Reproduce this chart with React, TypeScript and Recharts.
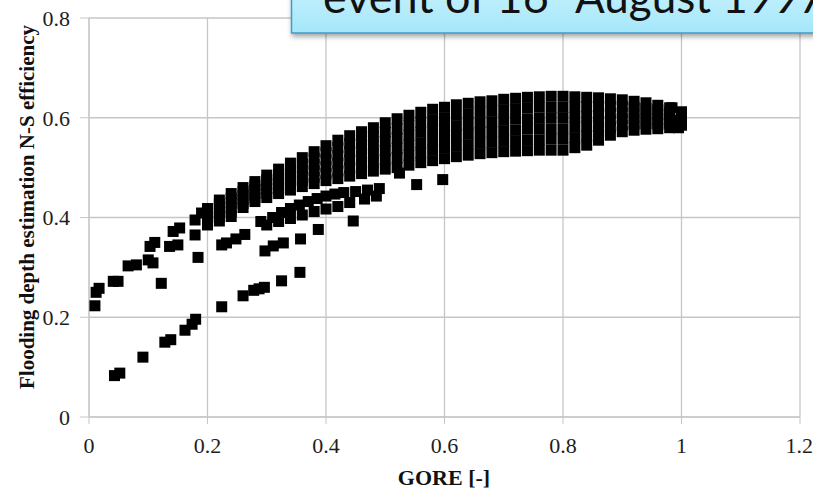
import { CartesianGrid, Label, Scatter, ScatterChart, XAxis, YAxis } from "recharts";

const xTicks = [0, 0.2, 0.4, 0.6, 0.8, 1, 1.2];
const yTicks = [0, 0.2, 0.4, 0.6, 0.8];

// GORE positions shared by every row of the dense band
const bandGore = [
  0.2, 0.22, 0.24, 0.26, 0.28, 0.3, 0.32, 0.34, 0.36, 0.38, 0.4, 0.42, 0.44, 0.46, 0.48, 0.5, 0.52, 0.54, 0.56, 0.58,
  0.6, 0.62, 0.64, 0.66, 0.68, 0.7, 0.72, 0.74, 0.76, 0.78, 0.8, 0.82, 0.84, 0.86, 0.88, 0.9, 0.92, 0.94, 0.96, 0.98, 1.0,
];

// N-S efficiency, top of the band down to its lower edge
const bandTop = [
  0.418, 0.435, 0.448, 0.46, 0.472, 0.485, 0.497, 0.509, 0.52, 0.532, 0.544, 0.555, 0.564, 0.572, 0.58, 0.59, 0.598, 0.605, 0.611, 0.617,
  0.621, 0.626, 0.629, 0.632, 0.634, 0.637, 0.639, 0.641, 0.642, 0.643, 0.643, 0.642, 0.641, 0.64, 0.638, 0.636, 0.633, 0.63, 0.625, 0.62, 0.612,
];
const bandRow2 = [
  0.411, 0.427, 0.439, 0.452, 0.464, 0.476, 0.487, 0.498, 0.508, 0.519, 0.53, 0.54, 0.548, 0.555, 0.563, 0.571, 0.578, 0.585, 0.591, 0.596,
  0.6, 0.605, 0.608, 0.611, 0.613, 0.616, 0.618, 0.62, 0.621, 0.621, 0.621, 0.622, 0.622, 0.623, 0.623, 0.623, 0.621, 0.619, 0.616, 0.612, 0.607,
];
const bandRow3 = [
  0.405, 0.418, 0.43, 0.444, 0.456, 0.467, 0.477, 0.487, 0.497, 0.506, 0.516, 0.524, 0.532, 0.538, 0.545, 0.553, 0.559, 0.565, 0.571, 0.576,
  0.58, 0.584, 0.587, 0.59, 0.592, 0.595, 0.597, 0.598, 0.599, 0.6, 0.6, 0.601, 0.603, 0.606, 0.609, 0.61, 0.61, 0.609, 0.606, 0.604, 0.601,
];
const bandRow4 = [
  0.398, 0.41, 0.42, 0.436, 0.448, 0.458, 0.468, 0.477, 0.485, 0.494, 0.502, 0.509, 0.515, 0.522, 0.528, 0.534, 0.539, 0.545, 0.55, 0.555,
  0.559, 0.564, 0.567, 0.57, 0.572, 0.574, 0.575, 0.577, 0.578, 0.578, 0.578, 0.581, 0.583, 0.589, 0.594, 0.598, 0.598, 0.598, 0.597, 0.596, 0.596,
];
const bandRow5 = [
  0.392, 0.401, 0.411, 0.428, 0.44, 0.449, 0.458, 0.466, 0.474, 0.481, 0.488, 0.493, 0.499, 0.505, 0.51, 0.516, 0.52, 0.525, 0.53, 0.535,
  0.539, 0.543, 0.546, 0.549, 0.551, 0.553, 0.554, 0.555, 0.556, 0.557, 0.557, 0.56, 0.564, 0.572, 0.58, 0.585, 0.587, 0.588, 0.587, 0.588, 0.59,
];
const bandBottom = [
  0.385, 0.393, 0.402, 0.42, 0.432, 0.44, 0.448, 0.455, 0.462, 0.468, 0.474, 0.478, 0.483, 0.488, 0.493, 0.497, 0.5, 0.505, 0.51, 0.514,
  0.518, 0.522, 0.525, 0.528, 0.53, 0.532, 0.533, 0.534, 0.535, 0.535, 0.535, 0.54, 0.545, 0.555, 0.565, 0.572, 0.575, 0.577, 0.578, 0.58, 0.585,
];

// scattered runs outside the band, as [GORE, N-S efficiency]
const lowGoreRun = [
  [0.01, 0.223], [0.012, 0.25], [0.017, 0.258], [0.041, 0.272], [0.049, 0.272], [0.066, 0.303], [0.08, 0.305],
  [0.1, 0.315], [0.108, 0.309], [0.103, 0.342], [0.111, 0.35], [0.122, 0.268], [0.136, 0.342], [0.15, 0.345],
  [0.142, 0.372], [0.153, 0.379], [0.179, 0.365], [0.179, 0.395], [0.184, 0.32], [0.19, 0.409],
];
const upperBranch = [
  [0.29, 0.392], [0.31, 0.4], [0.325, 0.41], [0.34, 0.418], [0.355, 0.425], [0.37, 0.432], [0.385, 0.438],
  [0.4, 0.443], [0.415, 0.447], [0.43, 0.45], [0.45, 0.452], [0.47, 0.455], [0.49, 0.458],
  [0.3, 0.385], [0.32, 0.392], [0.34, 0.398], [0.36, 0.405], [0.38, 0.412], [0.4, 0.417], [0.42, 0.422],
  [0.44, 0.43], [0.465, 0.437], [0.485, 0.443],
];
const middleBranch = [
  [0.224, 0.345], [0.232, 0.349], [0.248, 0.357], [0.263, 0.366], [0.297, 0.333], [0.311, 0.343],
  [0.328, 0.349], [0.357, 0.357], [0.387, 0.376], [0.446, 0.393],
];
const lowerBranch = [
  [0.224, 0.221], [0.26, 0.243], [0.278, 0.254], [0.287, 0.257], [0.296, 0.26], [0.325, 0.273], [0.356, 0.29],
];
const lowestBranch = [
  [0.043, 0.083], [0.052, 0.088], [0.091, 0.12], [0.128, 0.15], [0.138, 0.155], [0.162, 0.174], [0.174, 0.186], [0.18, 0.196],
];
const belowBand = [
  [0.524, 0.489], [0.553, 0.466], [0.597, 0.476], [0.984, 0.62], [0.998, 0.595], [0.995, 0.58],
];

const bandRows = [bandTop, bandRow2, bandRow3, bandRow4, bandRow5, bandBottom];
const runs = [lowGoreRun, upperBranch, middleBranch, lowerBranch, lowestBranch, belowBand];

const series = [
  ...bandRows.map((row) => bandGore.map((x, i) => ({ x, y: row[i] }))),
  ...runs.map((run) => run.map(([x, y]) => ({ x, y }))),
];

const serif = "'Liberation Serif', 'Times New Roman', serif";
const gridColor = "#c6c6c6";
const tickStyle = { fontFamily: serif, fontSize: 22, fill: "#1e1e1e" };

const SquareMark = (props: any) => (
  <rect x={props.cx - 5.5} y={props.cy - 5.5} width={11} height={11} fill="#000" />
);

export default function App() {
  return (
    <div style={{ position: "absolute", left: 0, top: 0, width: 813, height: 491, background: "#fff" }}>
      <ScatterChart width={813} height={491} margin={{ top: 18, right: 13, bottom: 34, left: 29 }}>
        <CartesianGrid stroke={gridColor} strokeWidth={1.3} />
        <XAxis
          type="number"
          dataKey="x"
          domain={[0, 1.2]}
          ticks={xTicks}
          height={40}
          stroke={gridColor}
          tickSize={7}
          tickMargin={13}
          tick={tickStyle}
        >
          <Label
            content={() => (
              <text x={444} y={485} textAnchor="middle" fontFamily={serif} fontSize={22} fontWeight="bold" fill="#111">
                GORE [-]
              </text>
            )}
          />
        </XAxis>
        <YAxis
          type="number"
          dataKey="y"
          domain={[0, 0.8]}
          ticks={yTicks}
          width={60}
          stroke={gridColor}
          tickSize={9}
          tickMargin={10}
          tick={tickStyle}
        >
          <Label
            content={() => (
              <text
                x={0}
                y={0}
                transform="translate(34 207) rotate(-90)"
                textAnchor="middle"
                fontFamily={serif}
                fontSize={21}
                fontWeight="bold"
                fill="#111"
              >
                Flooding depth estimation N-S efficiency
              </text>
            )}
          />
        </YAxis>
        {series.map((data, i) => (
          <Scatter key={i} data={data} fill="#000" shape={SquareMark} isAnimationActive={false} />
        ))}
      </ScatterChart>

      <svg width={813} height={491} style={{ position: "absolute", left: 0, top: 0, pointerEvents: "none" }}>
        <defs>
          <linearGradient id="calloutFill" x1="0" y1="0" x2="0" y2="1">
            <stop offset="0" stopColor="#d2f4fd" />
            <stop offset="1" stopColor="#a4e7fa" />
          </linearGradient>
          <filter id="calloutShadow" x="-0.1" y="-0.5" width="1.2" height="2">
            <feDropShadow dx="1" dy="3" stdDeviation="2.5" floodColor="#000" floodOpacity="0.35" />
          </filter>
        </defs>
        <rect
          x={291.5}
          y={-30}
          width={580}
          height={63}
          fill="url(#calloutFill)"
          stroke="#3f9bc5"
          strokeWidth={1.5}
          filter="url(#calloutShadow)"
        />
        <text fontFamily="Lato, 'Open Sans', sans-serif" fontSize={45} fill="#111">
          <tspan x={323} y={13}>event of 16</tspan>
          <tspan x={546} y={-10} fontSize={24}>th</tspan>
          <tspan x={575} y={13} fontSize={44}>August 1997</tspan>
        </text>
      </svg>
    </div>
  );
}
